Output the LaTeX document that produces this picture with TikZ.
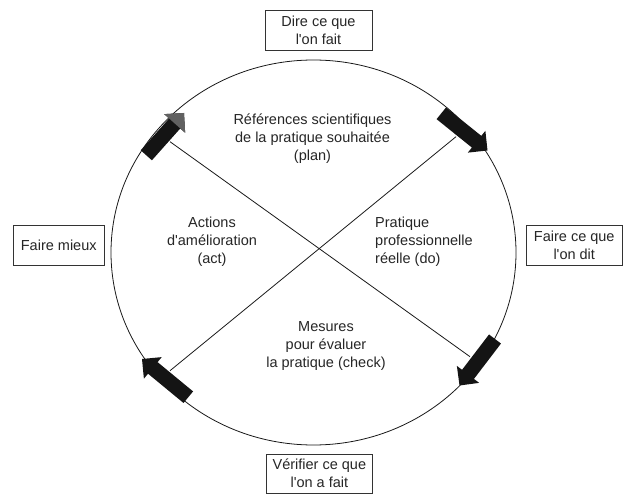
\documentclass[tikz,border=0pt]{standalone}
\usepackage{fontspec}
\setmainfont{Liberation Sans}
\usetikzlibrary{calc}
\newcommand{\apos}{\textquotesingle}
\newcommand{\pdcaarrow}[3]{%
  \coordinate (#1-h) at ($(#2)!14pt!(#1)$);
  \fill[#3] ($(#1)!7.5pt!90:(#2)$) -- ($(#1-h)!7.5pt!90:(#2)$) -- ($(#1-h)!14pt!90:(#2)$) -- (#2)
    -- ($(#1-h)!14pt!-90:(#2)$) -- ($(#1-h)!7.5pt!-90:(#2)$) -- ($(#1)!7.5pt!-90:(#2)$) -- cycle;}
\begin{document}
\begin{tikzpicture}[x=1pt,y=-1pt,
  lbl/.style={font=\fontsize{14.5}{18}\selectfont, text=black!85, align=center, inner sep=0pt},
  tbox/.style={lbl, draw=black!80, line width=0.8pt},
  thin line/.style={draw=black!90, line width=0.8pt}]
\useasboundingbox (0,0) rectangle (623,494);
\fill[white] (0,0) rectangle (623,494);
% cycle
\draw[thin line] (313.5,252.5) ellipse [x radius=202.5pt, y radius=192.5pt];
% cross lines
\coordinate (l1a) at (170,141.7);
\coordinate (l1b) at (470,356.7);
\coordinate (l2a) at (456,136.7);
\coordinate (l2b) at (170,370.7);
\draw[thin line] (l1a) -- (l1b);
\draw[thin line] (l2a) -- (l2b);
% block arrows
\coordinate (t1) at (146.3,155.3); \coordinate (p1) at (184,113);
\coordinate (t2) at (441.3,113.3); \coordinate (p2) at (487.5,150.5);
\coordinate (t3) at (495,339);     \coordinate (p3) at (459.5,385.5);
\coordinate (t4) at (188.3,397.2); \coordinate (p4) at (142,359);
\pdcaarrow{t1}{p1}{black!92}
\fill[black!62] ($(t1-h)!14pt!90:(p1)$) -- (p1) -- ($(t1-h)!14pt!-90:(p1)$) -- cycle;
\pdcaarrow{t2}{p2}{black!92}
\pdcaarrow{t3}{p3}{black!92}
\pdcaarrow{t4}{p4}{black!92}
% quadrant texts
\node[lbl] (plan) at (312.5,139) {Références scientifiques\\de la pratique souhaitée\\(plan)};
\node[lbl] (act) at (212,242) {Actions\\d\apos amélioration\\(act)};
\node[lbl, align=left, anchor=west] (do) at (375,242) {Pratique\\professionnelle\\réelle (do)};
\node[lbl] (check) at (326,346) {Mesures\\pour évaluer\\la pratique (check)};
% boxes
\node[tbox, minimum width=107pt, minimum height=40pt] (dire) at (318.5,30.5) {Dire ce que\\l\apos on fait};
\node[tbox, minimum width=90.5pt, minimum height=40pt] (mieux) at (58.75,245.7) {Faire mieux};
\node[tbox, minimum width=95.5pt, minimum height=40pt] (faire) at (574.25,245.7) {Faire ce que\\l\apos on dit};
\node[tbox, minimum width=106.7pt, minimum height=39pt] (verif) at (319.35,473.5) {Vérifier ce que\\l\apos on a fait};
\end{tikzpicture}
\end{document}
